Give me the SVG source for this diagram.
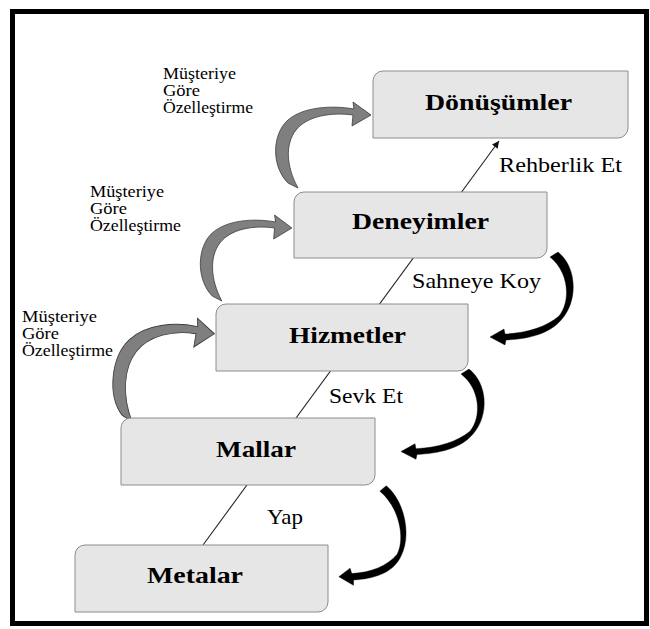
<svg xmlns="http://www.w3.org/2000/svg" width="650" height="629" viewBox="0 0 650 629">
  <style>
    .frame { fill: none; stroke: #000; stroke-width: 5; }
    .box { fill: #e6e6e6; stroke: #8c8c8c; stroke-width: 1; }
    .title { font-family: "Liberation Serif", "Times New Roman", "DejaVu Serif", serif; font-weight: bold; font-size: 24px; fill: #000; }
    .label { font-family: "Liberation Serif", "Times New Roman", "DejaVu Serif", serif; font-size: 21px; fill: #000; }
    .note { font-family: "Liberation Serif", "Times New Roman", "DejaVu Serif", serif; font-size: 16px; fill: #000; }
    .spine { fill: none; stroke: #222; stroke-width: 1.1; }
    .custom { fill: #7f7f7f; stroke: #3a3a3a; stroke-width: 0.8; }
    .step { fill: #000; stroke: #000; stroke-width: 0.4; }
  </style>
  <defs>
    <marker id="tip" viewBox="0 0 10 10" refX="10" refY="5" markerWidth="9" markerHeight="7" markerUnits="userSpaceOnUse" orient="auto">
      <path d="M0,0 L10,5 L0,10 Z" fill="#111"/>
    </marker>
    <!-- grey curved arrow, origin at the tail -->
    <path id="customArrow" class="custom" d="M -5,-3 C -22,-20 -21,-52 -5,-66 C 10,-79 38,-81 61,-77 L 60,-84 L 78,-71 L 59,-60 L 60,-71 C 38,-74 14,-70 3,-56 C -8,-42 -7,-20 5,2 Z"/>
    <!-- black curved arrow, origin at the tail -->
    <path id="stepArrow" class="step" d="M -5,2 L 3,-3 C 21,11 24,44 7,64 C -5,79 -27,84 -49,85 L -50,90 L -65,82 L -51,74 L -50,79 C -28,78 -9,72 4,61 C 16,46 14,17 -5,2 Z"/>
  </defs>

  <rect class="frame" x="12.5" y="11.5" width="634" height="612"/>

  <g id="connectors">
    <line class="spine" x1="203" y1="545" x2="499" y2="141" marker-end="url(#tip)"/>
    <use href="#customArrow" transform="translate(293,186)"/>
    <use href="#customArrow" transform="translate(217,299) scale(0.96,1.0)"/>
    <use href="#customArrow" transform="matrix(1.02,0,-0.11,1.2,127,419)"/>
    <use href="#stepArrow" transform="translate(555,255)"/>
    <use href="#stepArrow" transform="translate(466,372) scale(1,0.97)"/>
    <use href="#stepArrow" transform="matrix(0.893,0,0.157,1.07,384,489)"/>
    <text class="label" x="499" y="172" textLength="123" lengthAdjust="spacingAndGlyphs">Rehberlik Et</text>
    <text class="label" x="412" y="288" textLength="129" lengthAdjust="spacingAndGlyphs">Sahneye Koy</text>
    <text class="label" x="329" y="403" textLength="74" lengthAdjust="spacingAndGlyphs">Sevk Et</text>
    <text class="label" x="267" y="524" textLength="36" lengthAdjust="spacingAndGlyphs">Yap</text>
  </g>

  <g id="notes">
    <text class="note" x="163" y="79" textLength="73" lengthAdjust="spacingAndGlyphs">Müşteriye</text>
    <text class="note" x="163" y="96" textLength="37" lengthAdjust="spacingAndGlyphs">Göre</text>
    <text class="note" x="163" y="113" textLength="90" lengthAdjust="spacingAndGlyphs">Özelleştirme</text>
    <text class="note" x="90" y="197" textLength="74" lengthAdjust="spacingAndGlyphs">Müşteriye</text>
    <text class="note" x="90" y="214" textLength="37" lengthAdjust="spacingAndGlyphs">Göre</text>
    <text class="note" x="90" y="231" textLength="91" lengthAdjust="spacingAndGlyphs">Özelleştirme</text>
    <text class="note" x="22" y="322" textLength="75" lengthAdjust="spacingAndGlyphs">Müşteriye</text>
    <text class="note" x="22" y="339" textLength="37" lengthAdjust="spacingAndGlyphs">Göre</text>
    <text class="note" x="22" y="356" textLength="91" lengthAdjust="spacingAndGlyphs">Özelleştirme</text>
  </g>

  <g id="donusumler">
    <path class="box" d="M383,71 H628 V128 A10,10 0 0 1 618,138 H373 V81 A10,10 0 0 1 383,71 Z"/>
    <text class="title" x="425" y="110" textLength="147" lengthAdjust="spacingAndGlyphs">Dönüşümler</text>
  </g>
  <g id="deneyimler">
    <path class="box" d="M304,192 H547 V248 A10,10 0 0 1 537,258 H294 V202 A10,10 0 0 1 304,192 Z"/>
    <text class="title" x="352" y="229" textLength="137" lengthAdjust="spacingAndGlyphs">Deneyimler</text>
  </g>
  <g id="hizmetler">
    <path class="box" d="M226,304 H468 V361 A10,10 0 0 1 458,371 H216 V314 A10,10 0 0 1 226,304 Z"/>
    <text class="title" x="289" y="343" textLength="117" lengthAdjust="spacingAndGlyphs">Hizmetler</text>
  </g>
  <g id="mallar">
    <path class="box" d="M131,418 H375 V475 A10,10 0 0 1 365,485 H121 V428 A10,10 0 0 1 131,418 Z"/>
    <text class="title" x="216" y="457" textLength="80" lengthAdjust="spacingAndGlyphs">Mallar</text>
  </g>
  <g id="metalar">
    <path class="box" d="M85,545 H328 V602 A10,10 0 0 1 318,612 H75 V555 A10,10 0 0 1 85,545 Z"/>
    <text class="title" x="147" y="583" textLength="96" lengthAdjust="spacingAndGlyphs">Metalar</text>
  </g>
</svg>
